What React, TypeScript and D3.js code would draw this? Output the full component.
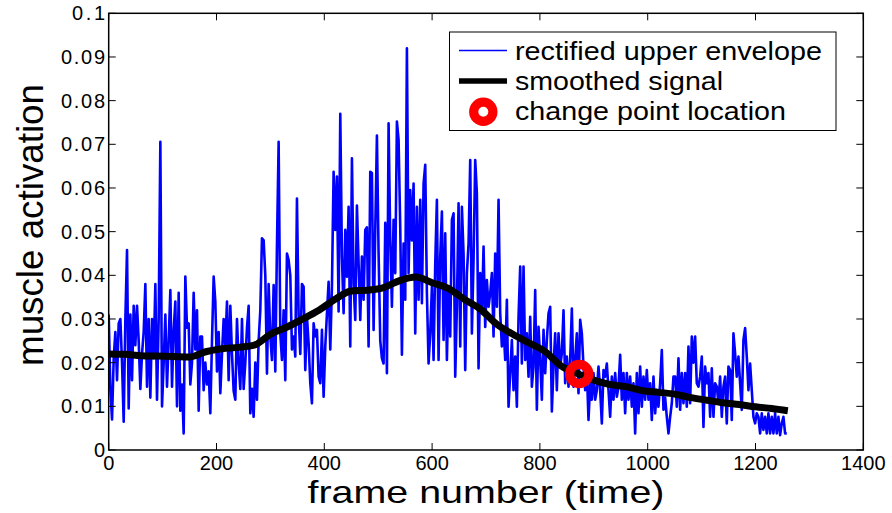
import React from "react";
import * as d3 from "d3";

// ---------- data ----------
const xTicks = [0, 200, 400, 600, 800, 1000, 1200, 1400];
const yTicks = [0, 0.01, 0.02, 0.03, 0.04, 0.05, 0.06, 0.07, 0.08, 0.09, 0.1];
const yTickLabels = ["0", "0.01", "0.02", "0.03", "0.04", "0.05", "0.06", "0.07", "0.08", "0.09", "0.1"];

// rectified upper envelope, in units of 0.001, evenly sampled from frame 0 to frame 1258
const envelopeMilli = [
  31, 14, 7, 21, 27, 16, 29, 30, 20, 6.5, 30, 45.8, 9.5, 31, 16, 33, 24, 33, 25, 14, 22, 27, 38, 14.5, 30, 12, 30, 21, 38, 11.5,
  30, 70.6, 10, 20, 31, 14.5, 25, 36.6, 14.5, 27.5, 34, 10, 36, 9, 15, 3.8, 39.7, 28, 29, 15, 20, 36, 23, 32, 9, 26, 26, 13.7, 20, 15,
  18, 8.4, 25, 39.7, 34, 18, 27, 13, 22, 30, 24, 34, 16, 33, 22, 13.5, 11.5, 30, 20, 14, 30, 14,
  20, 28, 33, 8.4, 14, 7.6, 20, 11.5, 25, 32, 48.5, 48, 40, 17.5, 38, 26, 20.6, 37.8, 18, 47, 70.6, 26.7, 20.6, 32, 16, 45, 43.5, 40,
  23, 26, 21.4, 57.6, 30.5, 22, 38, 37.4, 18.3, 30.5, 24.4, 15.3, 10.7, 29, 26, 27.5, 16.8, 15.3, 27.5, 12.2, 23.7, 31.3, 38.5, 23,
  37.4, 63.7, 50.4, 62.6, 31.7, 77, 44.3, 31.3, 50.4, 39.7, 55.7, 23.7, 66.8, 38, 29.8, 56, 42.7, 29.8, 44.3, 34.4, 50.4, 51, 23.7,
  63.7, 63.4, 27.5, 50.4, 72, 45, 25, 21,
  19.8, 52, 17.6, 74.8, 48, 32.8, 52.7, 40.5, 75.2, 71, 51, 21.8, 47.3, 34.4, 92, 40.5, 59.5, 48, 61, 26.7, 55.7, 34.4, 57.3, 33.6,
  61, 65.3, 35.9, 19.8, 26.7, 37.4, 20.6, 42.7, 57.3, 20.6, 44.3, 54.6, 25.2, 49.6, 20.6, 37.4, 26, 52.7, 54.2, 16.8, 32.8, 56.5,
  23.7, 55.7, 45, 18.3, 40.5, 47.3, 66.4, 26.7, 43.5, 66.4, 58.8, 18.7, 40.5, 31.3, 46.6, 28.2, 38.9, 32.8, 35.9, 40.5, 26, 45, 32.8,
  57.3, 31.3, 23.7, 28.2, 20.6, 34.4, 9.9, 17.6, 25.2, 13.7, 21.4, 9.9, 30.5, 42,
  19.8, 42, 20.6, 26.7, 16.8, 30.5, 14.5, 19.1, 36.6, 9.2, 28.2, 20.6, 11.5, 27.5, 17.6, 25.2, 31.3, 32.8, 8.8, 19.1, 26.7, 13.7,
  26.7, 19.1, 22.1, 32, 15.3, 21.4, 14.5, 20.6, 32.4, 14.5, 20.6, 26.7, 13, 29.8, 26.7, 19.1, 13.7, 18.3, 6.9, 15.3, 11.5, 17.6,
  11.5, 13.7, 19.1, 13.7, 6.1, 18.3, 16.8, 19.8, 13.7, 7.6, 16.8, 11.5, 17.6, 12.2, 14.5, 21.8, 11.5, 17.6, 8.4, 17.6, 11.5, 16.8,
  9.9, 15.3, 3.8, 17.6, 8.4, 19.1, 9.9, 16.8, 11.5, 18.3, 11.5, 15.3, 6.9, 16.8, 8.4, 13.7, 9.9,
  15.3, 22.9, 9.2, 12, 7.6, 3.8, 7.6, 10.7, 16.8, 16.8, 9.9, 21, 9.2, 17.6, 10.7, 17.6, 9.9, 23.7, 10.7, 26, 20, 26, 15.3, 14.5,
  16.8, 21.4, 5.3, 19.1, 15.3, 17.6, 7.6, 18.7, 7.6, 15.3, 14.5, 10.7, 16.8, 7.6, 14.5, 16.8, 6.1, 19.1, 18.3, 6.9, 26.7, 22.1,
  16.8, 21.4, 15.3, 9.2, 25.2, 27.9, 21.4, 13.7, 19.8, 13.7, 7.6, 6.1, 8.4, 7.6, 3.8, 8.4, 4.6, 7.6, 3.8, 8.4, 3.8, 7.6, 3.8, 8.4,
  3.8, 7.6, 3.4, 6.1, 7.6, 3.8, 3.8,
];
const envelopeFirstFrame = 0;
const envelopeLastFrame = 1258;

// smoothed signal, one value every 30 frames from frame 0 to 1260
const smoothFrameStep = 30;
const smoothedValues = [
  0.022, 0.0219, 0.0216, 0.0215, 0.0214, 0.0213, 0.0225, 0.0232, 0.0235, 0.024, 0.0265, 0.0281, 0.03, 0.032, 0.0345,
  0.0364, 0.0366, 0.0372, 0.0388, 0.0396, 0.0383, 0.037, 0.0345, 0.0322, 0.0288, 0.0265, 0.0245, 0.0225, 0.0192,
  0.0175, 0.016, 0.015, 0.0145, 0.0136, 0.0132, 0.0128, 0.012, 0.0114, 0.0108, 0.0104, 0.0099, 0.0095, 0.009,
];

const changePointFrame = 873;
const changePointValue = 0.0174;

const legendLabels = ["rectified upper envelope", "smoothed signal", "change point location"];
const legendLabelLengths = [307, 208, 271];

const xAxisLabel = "frame number (time)";
const yAxisLabel = "muscle activation";

// ---------- chart ----------
const W = 892;
const H = 513;
const left = 108.7;
const right = 863.3;
const top = 13.3;
const bottom = 450;
const FONT = "'Liberation Sans', Arial, Helvetica, sans-serif";

export default function App() {
  const x = d3.scaleLinear().domain([0, 1400]).range([left, right]);
  const y = d3.scaleLinear().domain([0, 0.1]).range([bottom, top]);

  const n = envelopeMilli.length;
  const envPts: [number, number][] = envelopeMilli.map((v, i) => [
    envelopeFirstFrame + (i * (envelopeLastFrame - envelopeFirstFrame)) / (n - 1),
    v / 1000,
  ]);
  const smoothPts: [number, number][] = smoothedValues.map((v, i) => [i * smoothFrameStep, v]);

  const line = d3
    .line<[number, number]>()
    .x((d) => x(d[0]))
    .y((d) => y(d[1]));
  const smoothLine = d3
    .line<[number, number]>()
    .x((d) => x(d[0]))
    .y((d) => y(d[1]))
    .curve(d3.curveMonotoneX);

  const tickLen = 7;

  const lgX = 449.5;
  const lgY = 32;
  const lgW = 386.5;
  const lgH = 98.5;
  const rowY = [50.5, 81, 111.7];
  const baseY = [59.5, 89.5, 120];

  return (
    <svg
      width={W}
      height={H}
      style={{ position: "fixed", left: 0, top: 0, background: "#fff" }}
      fontFamily={FONT}
    >
      <rect x={0} y={0} width={W} height={H} fill="#fff" />
      <defs>
        <clipPath id="plotClip">
          <rect x={left} y={top} width={right - left} height={bottom - top} />
        </clipPath>
      </defs>

      {/* data */}
      <g clipPath="url(#plotClip)">
        <path d={line(envPts) || ""} fill="none" stroke="#0000ff" strokeWidth={2.6} strokeLinejoin="round" />
        <path d={smoothLine(smoothPts) || ""} fill="none" stroke="#000" strokeWidth={7} strokeLinejoin="round" />
        <circle
          cx={x(changePointFrame)}
          cy={y(changePointValue)}
          r={9.6}
          fill="none"
          stroke="#ff0000"
          strokeWidth={9.2}
        />
      </g>

      {/* ticks (inward, on all four sides) */}
      {xTicks.map((t) => (
        <g key={"xt" + t}>
          <line x1={x(t)} x2={x(t)} y1={bottom} y2={bottom - tickLen} stroke="#000" strokeWidth={1} />
          <line x1={x(t)} x2={x(t)} y1={top} y2={top + tickLen} stroke="#000" strokeWidth={1} />
          <text x={x(t)} y={470} textAnchor="middle" fontSize={20} fill="#000">
            {String(t)}
          </text>
        </g>
      ))}
      {yTicks.map((t, i) => {
        const lab = yTickLabels[i];
        const hasDot = lab.includes(".");
        const digits = lab.replace(".", "").length;
        return (
          <g key={"yt" + i}>
            <line x1={left} x2={left + tickLen} y1={y(t)} y2={y(t)} stroke="#000" strokeWidth={1} />
            <line x1={right} x2={right - tickLen} y1={y(t)} y2={y(t)} stroke="#000" strokeWidth={1} />
            <text
              x={105}
              y={y(t) + 7}
              textAnchor="end"
              fontSize={20}
              fill="#000"
              {...(hasDot ? { textLength: digits * 11.2 + 10.5, lengthAdjust: "spacing" } : {})}
            >
              {lab}
            </text>
          </g>
        );
      })}

      {/* box */}
      <rect x={left} y={top} width={right - left} height={bottom - top} fill="none" stroke="#000" strokeWidth={1.5} />

      {/* axis labels */}
      <text
        x={(left + right) / 2}
        y={503}
        textAnchor="middle"
        fontSize={32}
        fill="#000"
        textLength={357}
        lengthAdjust="spacingAndGlyphs"
      >
        {xAxisLabel}
      </text>
      <text
        transform={`translate(43, 225) rotate(-90)`}
        textAnchor="middle"
        fontSize={37}
        fill="#000"
        textLength={282}
        lengthAdjust="spacingAndGlyphs"
      >
        {yAxisLabel}
      </text>

      {/* legend */}
      <rect x={lgX} y={lgY} width={lgW} height={lgH} fill="#fff" stroke="#000" strokeWidth={1} />
      <line x1={459} x2={507} y1={rowY[0]} y2={rowY[0]} stroke="#0000ff" strokeWidth={1.5} />
      <line x1={459} x2={507} y1={rowY[1]} y2={rowY[1]} stroke="#000" strokeWidth={5.5} />
      <circle cx={483.3} cy={rowY[2]} r={9.6} fill="none" stroke="#ff0000" strokeWidth={9.2} />
      {legendLabels.map((l, i) => (
        <text
          key={l}
          x={515}
          y={baseY[i]}
          fontSize={25}
          fill="#000"
          textLength={legendLabelLengths[i]}
          lengthAdjust="spacingAndGlyphs"
        >
          {l}
        </text>
      ))}
    </svg>
  );
}
